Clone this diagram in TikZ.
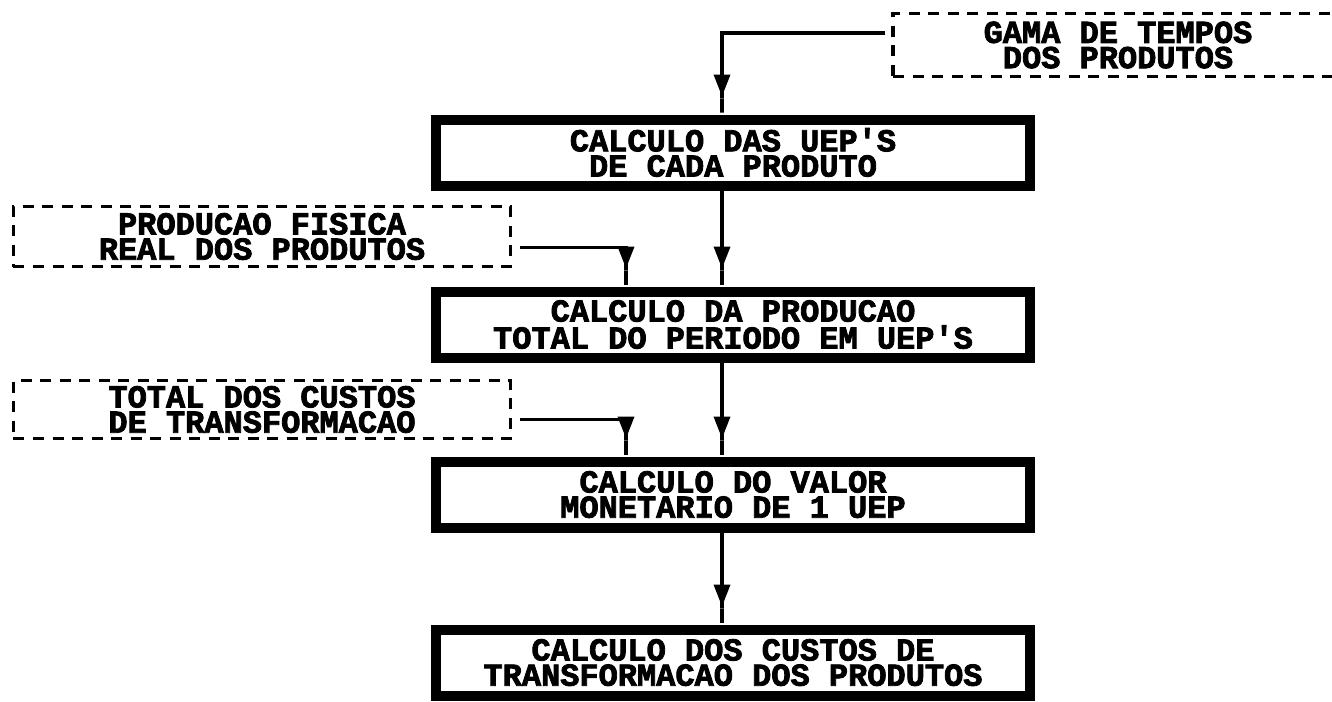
\documentclass[tikz,border=0pt]{standalone}
\usepackage{fontspec}
\newfontfamily\dotfont{Liberation Mono}[BoldFeatures={FakeBold=2.5}]
\usetikzlibrary{arrows.meta,positioning}

\begin{document}
\begin{tikzpicture}[every node/.style={font=\dotfont\bfseries\fontsize{9.1}{6.1}\selectfont, align=center, inner sep=0pt},
    stagebox/.style={draw, line width=2.85pt, minimum width=5.94cm, minimum height=0.66cm},
    inputbox/.style={draw, line width=0.9pt, dash pattern=on 0.11cm off 0.085cm},
    flow/.style={line width=1pt, -{Triangle[length=0.22cm,width=0.16cm] Rectangle[length=0.18cm,width=1pt]}}]
        \useasboundingbox (0,0) rectangle (13.32,-7.01);
        % main chain of calculations
        \node[stagebox] (uep) at (7.33,-1.525) {CALCULO DAS UEP'S\\DE CADA PRODUTO};
        \node[stagebox, below=0.96cm of uep] (total) {CALCULO DA PRODUCAO\\TOTAL DO PERIODO EM UEP'S};
        \node[stagebox, below=0.94cm of total] (valor) {CALCULO DO VALOR\\MONETARIO DE 1 UEP};
        \node[stagebox, below=0.92cm of valor] (custo) {CALCULO DOS CUSTOS DE\\TRANSFORMACAO DOS PRODUTOS};
        % inputs
        \node[inputbox, minimum width=4.5cm, minimum height=0.63cm] (gama) at (11.18,-0.45) {GAMA DE TEMPOS\\DOS PRODUTOS};
        \node[inputbox, minimum width=4.97cm, minimum height=0.6cm] (fisica) at (2.62,-2.365) {PRODUCAO FISICA\\REAL DOS PRODUTOS};
        \node[inputbox, minimum width=4.97cm, minimum height=0.58cm] (custos) at (2.62,-4.095) {TOTAL DOS CUSTOS\\DE TRANSFORMACAO};
        \coordinate (spine) at (7.22,0);
        \coordinate (feed) at (6.26,0);
        \draw[flow] ([shift={(-0.06,0.12)}]gama.west) -| (uep.north -| spine);
        \draw[flow] (uep.south -| spine) -- (total.north -| spine);
        \draw[flow] ([shift={(0.08,-0.11)}]fisica.east) -| (total.north -| feed);
        \draw[flow] (total.south -| spine) -- (valor.north -| spine);
        \draw[flow] ([shift={(0.08,-0.1)}]custos.east) -| (valor.north -| feed);
        \draw[flow] (valor.south -| spine) -- (custo.north -| spine);
    \end{tikzpicture}
\end{document}
